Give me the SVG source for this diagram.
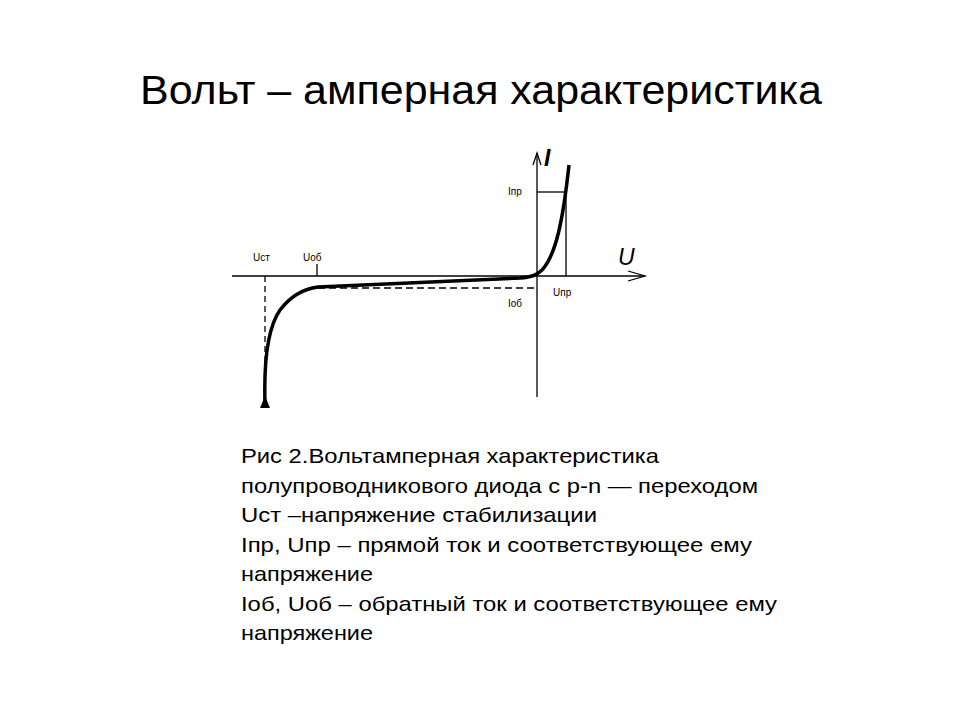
<svg xmlns="http://www.w3.org/2000/svg" width="960" height="720" viewBox="0 0 960 720">
<style>
.s{font-family:"Liberation Sans",Arial,sans-serif;font-size:10px;fill:#000}
.b{font-family:"Liberation Sans",Arial,sans-serif;font-size:21px;fill:#000}
.ax{stroke:#000;stroke-width:1.3;fill:none}
</style>
<rect width="960" height="720" fill="#fff"/>
<text x="140" y="104" font-family="Liberation Sans,Arial,sans-serif" font-size="40" textLength="682" lengthAdjust="spacingAndGlyphs">Вольт – амперная характеристика</text>
<g id="axes">
<line class="ax" x1="232" y1="276" x2="645" y2="276"/>
<polyline class="ax" points="628,271 645,276 628,281"/>
<line class="ax" x1="537" y1="153" x2="537" y2="397"/>
<polyline class="ax" points="533,165 537,153 541,165"/>
<text x="544" y="166" font-family="Liberation Sans,Arial,sans-serif" font-size="23" font-style="italic" font-weight="bold">I</text>
<text x="618" y="265" font-family="Liberation Sans,Arial,sans-serif" font-size="23" font-style="italic">U</text>
</g>
<g id="guides">
<line class="ax" x1="537" y1="192" x2="566" y2="192"/>
<line class="ax" x1="566" y1="192" x2="566" y2="276"/>
<line class="ax" x1="317" y1="264" x2="317" y2="276"/>
<line class="ax" x1="265" y1="276" x2="265" y2="398" stroke-dasharray="6,4"/>
<line class="ax" x1="318" y1="288" x2="537" y2="288" stroke-dasharray="7,4" stroke-width="1.6"/>
</g>
<g id="curve">
<path d="M265,404 C264,370 266,330 280,310 C290,297 302,289 318,287 L520,278 C532,277 537,275 542,270 C556,255 563,220 569,165" fill="none" stroke="#000" stroke-width="3.5"/>
<path d="M260,408 L270,408 L265,396 Z" fill="#000"/>
</g>
<g id="labels">
<text class="s" x="253" y="261">Uст</text>
<text class="s" x="303" y="261">Uоб</text>
<text class="s" x="508" y="195">Iпр</text>
<text class="s" x="508" y="307">Iоб</text>
<text class="s" x="553" y="296">Uпр</text>
</g>
<g id="caption">
<text class="b" x="241" y="463" textLength="418" lengthAdjust="spacingAndGlyphs">Рис 2.Вольтамперная характеристика</text>
<text class="b" x="241" y="493" textLength="517" lengthAdjust="spacingAndGlyphs">полупроводникового диода с p-n — переходом</text>
<text class="b" x="241" y="522" textLength="356" lengthAdjust="spacingAndGlyphs">Uст –напряжение стабилизации</text>
<text class="b" x="241" y="552" textLength="511" lengthAdjust="spacingAndGlyphs">Iпр, Uпр – прямой ток и соответствующее ему</text>
<text class="b" x="241" y="581" textLength="132" lengthAdjust="spacingAndGlyphs">напряжение</text>
<text class="b" x="241" y="611" textLength="536" lengthAdjust="spacingAndGlyphs">Iоб, Uоб – обратный ток и соответствующее ему</text>
<text class="b" x="241" y="640" textLength="132" lengthAdjust="spacingAndGlyphs">напряжение</text>
</g>
</svg>
